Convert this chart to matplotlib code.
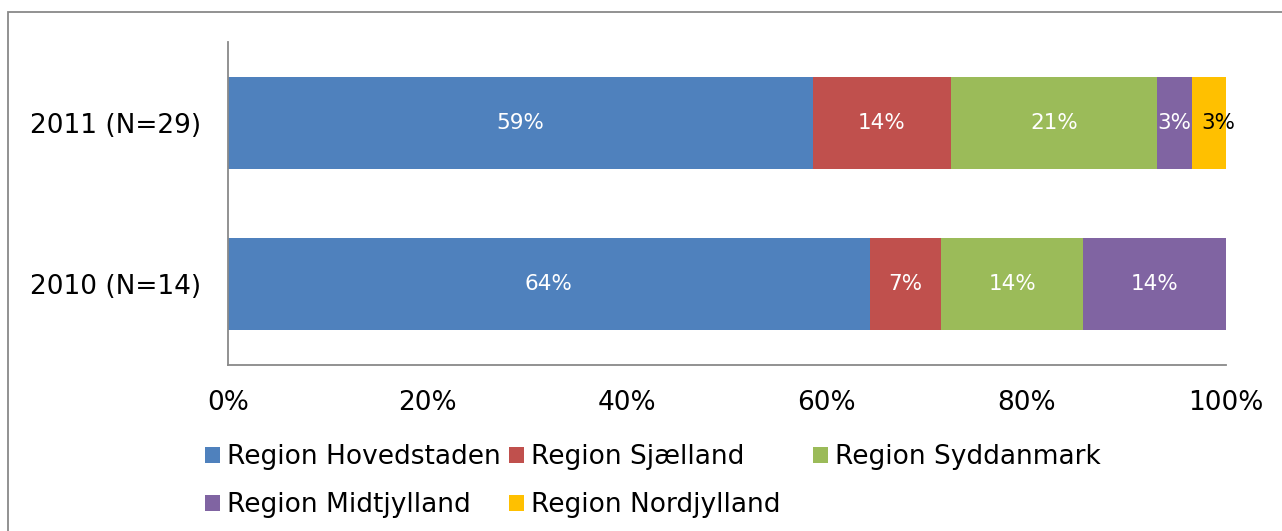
import numpy as np
import matplotlib.pyplot as plt
from matplotlib.patches import Rectangle

# Data: number of respondents per region
years = ['2010 (N=14)', '2011 (N=29)']
regions = ['Region Hovedstaden', 'Region Sjælland', 'Region Syddanmark',
           'Region Midtjylland', 'Region Nordjylland']
counts_2010 = [9, 1, 2, 2, 0]
counts_2011 = [17, 4, 6, 1, 1]
colors = ['#4F81BD', '#C0504D', '#9BBB59', '#8064A2', '#FFC000']
label_colors = ['white', 'white', 'white', 'white', 'black']

counts = np.array([counts_2010, counts_2011], dtype=float)
shares = counts / counts.sum(axis=1, keepdims=True) * 100

plt.rcParams['font.family'] = 'DejaVu Sans'

W, H = 1282, 531
fig = plt.figure(figsize=(W / 100, H / 100), dpi=100)
ax = fig.add_axes([228 / W, 1 - 365 / H, (1226 - 228) / W, (365 - 42) / H])

y = np.arange(len(years))
left = np.zeros(len(years))
bars = []
for i, reg in enumerate(regions):
    b = ax.barh(y, shares[:, i], left=left, height=0.57, color=colors[i],
                label=reg)
    bars.append(b)
    for j in range(len(years)):
        v = shares[j, i]
        if v <= 0:
            continue
        if i == len(regions) - 1 and v < 5:
            # narrow last segment: label runs past the bar end
            ax.text(left[j] + 1.0, y[j], f'{v:.0f}%', ha='left',
                    va='center', color=label_colors[i], fontsize=15.5)
        else:
            ax.text(left[j] + v / 2, y[j], f'{v:.0f}%', ha='center',
                    va='center', color=label_colors[i], fontsize=15.5)
    left += shares[:, i]

ax.set_xlim(0, 100)
ax.set_ylim(-0.5, 1.5)
ax.set_xticks(np.arange(0, 101, 20))
ax.set_xticklabels([f'{t}%' for t in range(0, 101, 20)])
ax.set_yticks(y)
ax.set_yticklabels(years)
ax.tick_params(axis='both', length=0, labelsize=19)
ax.tick_params(axis='x', pad=18)
ax.tick_params(axis='y', pad=19)
for s in ['top', 'right']:
    ax.spines[s].set_visible(False)
for s in ['left', 'bottom']:
    ax.spines[s].set_color('#898989')
    ax.spines[s].set_linewidth(1.3)

# legend entries placed on an even grid
pos = [(205, 457), (509, 457), (813, 457), (205, 505), (509, 505)]
for b, reg, (px, py) in zip(bars, regions, pos):
    fig.legend([b], [reg], loc='center left',
               bbox_to_anchor=(px / W, 1 - py / H), frameon=False,
               fontsize=19, handlelength=0.57, handleheight=0.57,
               handletextpad=0.25, borderpad=0, borderaxespad=0)

# outer chart frame
fig.patches.append(Rectangle((8 / W, -0.1), 1.1, 1.1 - 12 / H,
                             transform=fig.transFigure, fill=False,
                             edgecolor='#898989', linewidth=1.3))

fig.savefig('out.png', dpi=100)
